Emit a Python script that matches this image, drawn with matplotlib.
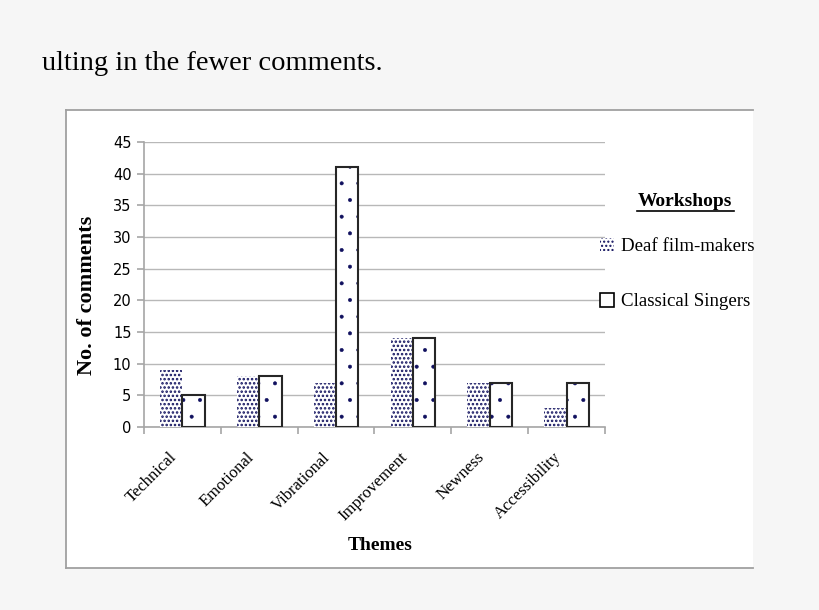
import matplotlib.pyplot as plt
import matplotlib.patches as mpatches
import matplotlib.transforms as mtransforms
from matplotlib.lines import Line2D
import numpy as np

# data
themes = ['Technical', 'Emotional', 'Vibrational', 'Improvement', 'Newness', 'Accessibility']
deaf = [9, 8, 7, 14, 7, 3]
classical = [5, 8, 41, 14, 7, 7]
series_names = ['Deaf film-makers', 'Classical Singers']

navy = '#10105e'
grey = '#a6a6a6'
serif = 'Liberation Serif'


def hatch_lw(patches, lw):
    for p in patches:
        if hasattr(p, 'set_hatch_linewidth'):
            p.set_hatch_linewidth(lw)


fig = plt.figure(figsize=(8.2, 6.1), dpi=100)
fig.patch.set_facecolor('#f6f6f6')

# white chart box (cropped on the right, so no right border)
W, H = 820, 610
box = mpatches.Rectangle((66 / W, 1 - 568 / H), (753 - 66) / W, (568 - 110) / H,
                         transform=fig.transFigure, facecolor='white',
                         edgecolor='none', zorder=-1)
fig.patches.append(box)
for xs, ys in [([66, 753], [110, 110]), ([66, 66], [110, 568]), ([66, 753], [568, 568])]:
    fig.add_artist(Line2D([v / W for v in xs], [1 - v / H for v in ys],
                          transform=fig.transFigure, color='#a0a0a0', linewidth=1.3))

fig.text(42 / W, 1 - 70 / H, 'ulting in the fewer comments.', family=serif,
         fontsize=20.5, ha='left', va='baseline')

ax = fig.add_axes([144 / W, 1 - 427 / H, (605 - 144) / W, (427 - 142) / H])
ax.set_facecolor('none')
ax.set_zorder(2)

x = np.arange(len(themes))
w = 0.29
b1 = ax.bar(x - w / 2, deaf, w, color='white', edgecolor=navy, hatch='....', linewidth=0, zorder=3)
b2 = ax.bar(x + w / 2, classical, w, color='white', edgecolor=navy, hatch='.', linewidth=0, zorder=3)
hatch_lw(b1, 1.2)
hatch_lw(b2, 0.4)
ax.bar(x + w / 2, classical, w, fill=False, edgecolor='#262626', linewidth=1.5, zorder=4)

ax.set_ylim(0, 45)
ax.set_xlim(-0.5, len(themes) - 0.5)
ax.set_yticks(range(0, 46, 5))
ax.yaxis.grid(True, color='#b8b8b8', linewidth=1)
ax.set_axisbelow(True)
for s in ['top', 'right']:
    ax.spines[s].set_visible(False)
for s in ['left', 'bottom']:
    ax.spines[s].set_color(grey)
    ax.spines[s].set_linewidth(1.2)

# ticks sit between categories, labels are placed under each category
ax.set_xticks(np.arange(-0.5, len(themes), 1))
ax.set_xticklabels([])
ax.tick_params(axis='x', length=5, color=grey, width=1.2)
ax.tick_params(axis='y', length=5, color=grey, width=1.2, labelsize=10.5, pad=4)
offset = mtransforms.ScaledTranslation(-8 / 100, -28 / 100, fig.dpi_scale_trans)
for i, t in zip(x, themes):
    ax.text(i, 0, t, transform=ax.get_xaxis_transform() + offset, rotation=45,
            rotation_mode='anchor', ha='right', va='center', family=serif, fontsize=12)

ax.set_ylabel('No. of comments', family=serif, fontsize=16, fontweight='bold')
ax.yaxis.set_label_coords(-0.101, 0.463)
fig.text(380 / W, 1 - 545 / H, 'Themes', family=serif, fontsize=14, fontweight='bold',
         ha='center', va='center')

# legend
fig.text(685 / W, 1 - 201 / H, 'Workshops', family=serif, fontsize=14,
         fontweight='bold', ha='center', va='center')
fig.add_artist(Line2D([637 / W, 734 / W], [1 - 211 / H, 1 - 211 / H],
                      transform=fig.transFigure, color='black', linewidth=1.2))
h1 = mpatches.Patch(facecolor='white', edgecolor=navy, hatch='....', linewidth=0)
h2 = mpatches.Patch(facecolor='white', edgecolor='black', linewidth=1.2)
hatch_lw([h1], 1.2)
fig.legend([h1, h2], series_names, loc='upper left', bbox_to_anchor=(592 / W, 1 - 230 / H),
           frameon=False, prop={'family': serif, 'size': 13.6}, handlelength=0.75,
           handleheight=0.75, handletextpad=0.4, labelspacing=2.0, borderaxespad=0)

fig.savefig('out.png', dpi=100, facecolor=fig.get_facecolor())
